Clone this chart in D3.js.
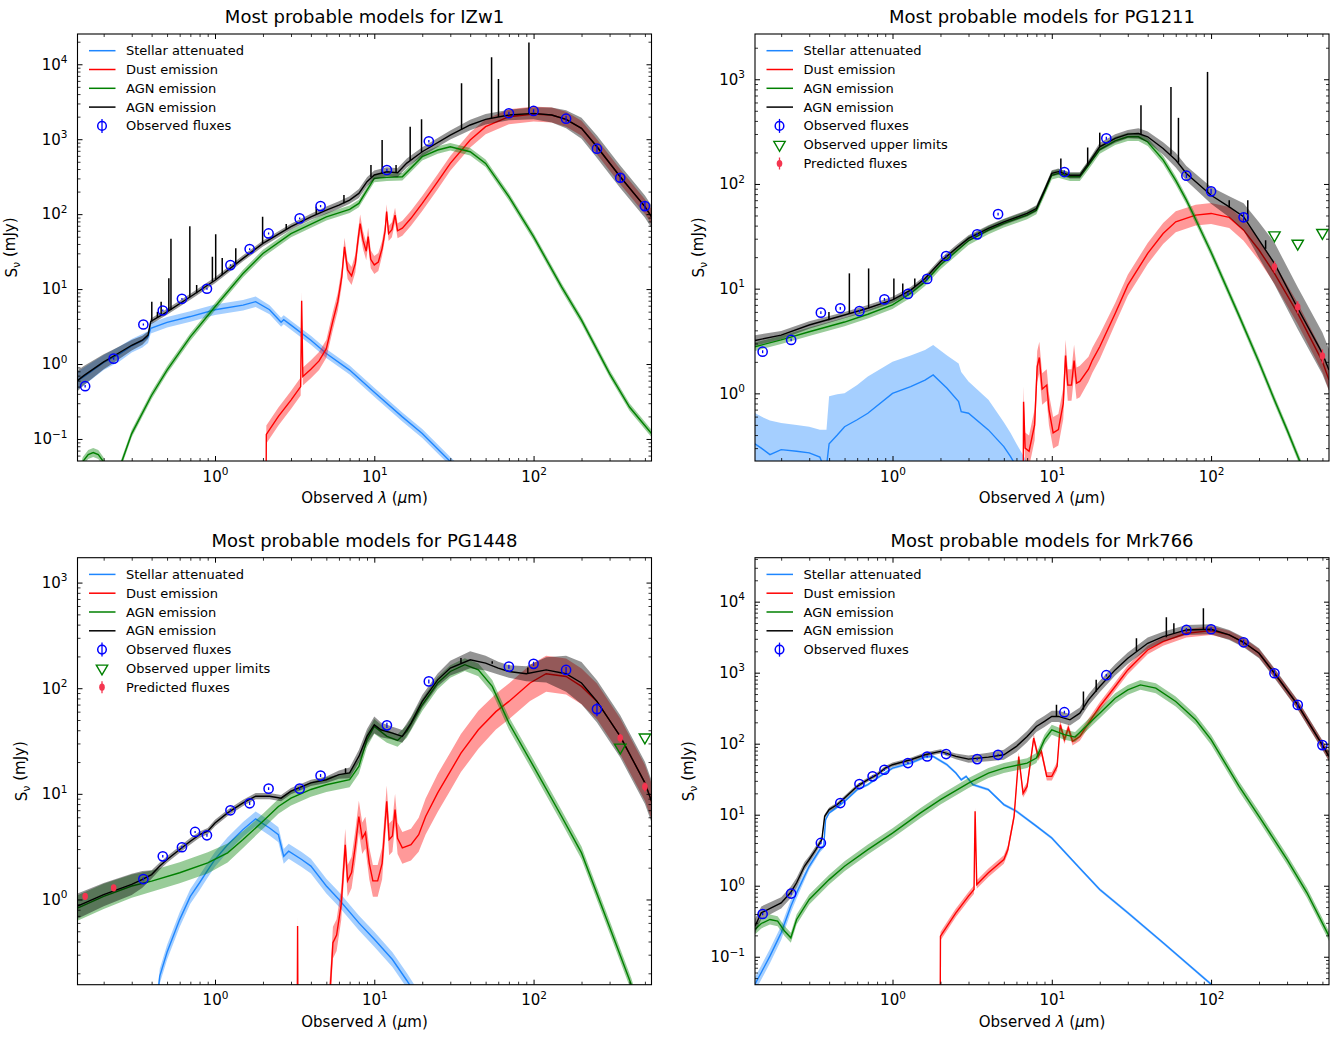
<!DOCTYPE html>
<html>
<head>
<meta charset="utf-8">
<title>Most probable models</title>
<script src="https://cdn.jsdelivr.net/npm/d3@7"></script>
<style>
  body { margin: 0; background: #fff; }
  text { font-family: "DejaVu Sans", sans-serif; fill: #000; }
</style>
</head>
<body>
<svg id="sed" width="1339" height="1038"></svg>
<script>
// Observed wavelength range shared by the four panels (micron)
var LAM_RANGE = [0.137, 550];

// Model components: [lambda, S_nu (mJy), band half-width (dex)]
// or [lambda, S_nu, band low, band high] when the band is lopsided.
var IZW1_STELLAR = [[0.137,0.6,0.12],[0.15,0.68,0.12],[0.2,1.05,0.1],[0.25,1.35,0.1],[0.3,1.75,0.09],
  [0.35,2.05,0.09],[0.38,2.3,0.08],[0.395,3.0,0.07],[0.5,3.6,0.07],[0.7,4.3,0.07],[1,5.3,0.07],
  [1.5,6.1,0.07],[1.8,6.8,0.07],[2.2,5.3,0.06],[2.6,3.6,0.06],[2.7,3.9,0.06],[3,3.3,0.06],[4,2.08,0.06],
  [5,1.38,0.06],[7,0.83,0.06],[10,0.42,0.06],[15,0.197,0.06],[20,0.118,0.06],[30,0.05,0.06],[40,0.028,0.06]];
var IZW1_DUST = [[2.09,0.012,0.12],[2.1,0.115,0.12],[2.5,0.2,0.12],[3,0.33,0.12],[3.45,0.5,0.12],[3.5,7.0,0.12],
  [3.56,0.68,0.12],[4,0.85,0.12],[4.5,1.1,0.12],[5,1.6,0.12],[5.5,3.8,0.12],[5.9,6.8,0.12],[6.25,14.6,0.12],
  [6.5,36.6,0.12],[6.8,18,0.12],[7.2,15,0.12],[7.6,22,0.12],[7.9,45,0.12],[8.15,75,0.12],[8.5,45,0.12],
  [8.9,32,0.12],[9.15,50,0.12],[9.5,25,0.12],[10,21,0.12],[10.6,23,0.12],[11.2,35,0.1],[11.7,60,0.1],
  [11.95,108,0.1],[12.3,55,0.1],[12.9,62,0.1],[13.5,97,0.1],[14,60,0.1],[15,65,0.1],[17,88,0.1],[20,139,0.1],
  [25,271,0.1],[30,476,0.1],[40,977,0.1],[50,1469,0.1],[70,1996,0.1],[100,2173,0.1],[130,2100,0.1],
  [160,1840,0.1],[200,1396,0.1],[250,793,0.1],[350,316,0.1],[500,126,0.1],[550,92,0.1]];
var IZW1_AGN = [[0.137,0.03,0.06],[0.148,0.05,0.06],[0.16,0.062,0.06],[0.172,0.066,0.06],[0.185,0.062,0.06],
  [0.199,0.05,0.06],[0.215,0.035,0.06],[0.24,0.03,0.05],[0.26,0.05,0.05],[0.3,0.118,0.05],[0.4,0.383,0.05],
  [0.5,0.83,0.05],[0.7,2.3,0.05],[1,5.8,0.05],[1.5,16.1,0.05],[2,29.9,0.05],[3,55,0.05],[5,92,0.05],
  [7,116,0.05],[8,139,0.05],[9,209,0.05],[10,300,0.05],[12,310,0.05],[15,316,0.05],[20,585,0.05],
  [25,718,0.05],[30,794,0.05],[40,681,0.05],[50,476,0.05],[70,171,0.05],[100,50,0.05],[150,10.7,0.05],
  [200,3.85,0.05],[300,0.746,0.05],[400,0.267,0.05],[550,0.118,0.05]];
var IZW1_TOTAL = [[0.137,0.6,0.14],[0.15,0.7,0.13],[0.2,1.07,0.1],[0.23,1.27,0.09],[0.3,1.78,0.07],
  [0.35,2.08,0.06],[0.38,2.43,0.05],[0.395,3.7,0.04],[0.5,4.97,0.04],[0.7,7.9,0.04],[1,13.1,0.04],
  [1.5,25.7,0.04],[2,40.7,0.04],[3,68,0.04],[4,92,0.04],[5,113,0.05],[6,132,0.05],[7,154,0.05],[8,189,0.06],
  [9,271,0.06],[10,333,0.06],[12,368,0.06],[14,357,0.06],[16,480,0.06],[20,681,0.06],[30,1137,0.06],
  [40,1549,0.07],[50,1843,0.07],[70,2105,0.07],[100,2214,0.08],[130,2100,0.1],[160,1840,0.12],
  [200,1396,0.14],[250,793,0.15],[350,316,0.15],[500,126,0.15],[550,92,0.15]];
// emission lines on the total model: [lambda, continuum, peak]
var IZW1_LINES = [[0.401,3.7,6.8],[0.435,4.1,5.0],[0.459,4.4,6.8],[0.513,5.1,13.9],[0.529,5.3,47],
  [0.695,7.8,69],[0.767,8.8,11.3],[0.963,12.5,27],[1.01,13.2,54],[1.11,15.3,26],[1.35,21.5,35],
  [1.99,40.5,92],[2.8,63,74],[4.32,100,126],[6.45,140,180],[9.53,310,452],[11.2,345,977],[13.7,360,452],
  [16.8,520,1470],[19.8,670,1840],[35.3,1350,5570],[54.5,1900,12400],[60.2,1980,6370],[93.5,2200,19450]];
// photometry: [lambda, flux, error]
var IZW1_OBS = [[0.153,0.506,0.02],[0.231,1.18,0.04],[0.355,3.37,0.1],[0.47,5.18,0.15],[0.62,7.41,0.2],
  [0.89,10.1,0.3],[1.25,20.9,0.6],[1.65,34.2,1],[2.17,55.3,1.7],[3.4,87.8,2.5],[4.6,128,4],[12,388,15],
  [22,938,35],[70,2220,110],[100,2384,120],[160,1880,180],[250,748,80],[350,306,40],[500,128,18]];

var PG1211_STELLAR = [[0.137,0.33,0.1,0.65],[0.15,0.3,0.1,0.6],[0.17,0.26,0.1,0.55],[0.2,0.29,0.1,0.52],
  [0.25,0.28,0.1,0.5],[0.3,0.27,0.1,0.48],[0.35,0.246,0.1,0.45],[0.37,0.2,0.1,0.45],[0.385,0.2,0.1,0.45],
  [0.4,0.33,0.1,0.94],[0.45,0.4,0.1,0.98],[0.5,0.48,0.1,1.0],[0.6,0.56,0.1,1.2],[0.7,0.646,0.1,1.45],
  [1,1.0,0.1,2.0],[1.3,1.16,0.1,2.3],[1.6,1.34,0.1,2.6],[1.8,1.5,0.1,2.9],[2.2,1.12,0.1,2.3],
  [2.6,0.834,0.1,1.93],[2.7,0.67,0.1,1.6],[3,0.646,0.1,1.3],[4,0.448,0.1,0.87],[5,0.31,0.1,0.53],
  [5.5,0.25,0.1,0.42],[6,0.2,0.1,0.33],[7,0.15,0.1,0.22]];
var PG1211_DUST = [[6.6,0.05,0.15],[6.65,0.83,0.15],[6.8,0.3,0.15],[7.2,0.28,0.15],[7.8,0.5,0.15],
  [8.1,1.8,0.15],[8.35,2.2,0.15],[8.7,1.1,0.15],[9.3,1.2,0.15],[9.6,0.7,0.15],[10.2,0.42,0.15],
  [11,0.45,0.15],[11.8,0.8,0.15],[12.2,2.3,0.15],[12.6,1.2,0.15],[13.3,1.2,0.15],[13.8,2.06,0.15],
  [14.3,1.25,0.15],[15,1.3,0.15],[17,1.7,0.12],[18,2.08,0.12],[20,2.79,0.12],[25,5.8,0.1],[30,10.8,0.1],
  [40,21.7,0.1],[50,33.6,0.1],[60,43.5,0.1],[80,50.4,0.1],[100,52.3,0.1],[130,47.9,0.1],[160,36.2,0.1],
  [200,23.4,0.1],[250,14,0.1],[350,5.8,0.1],[500,2.01,0.1],[550,1.34,0.1]];
var PG1211_AGN = [[0.137,2.79,0.04],[0.2,3.24,0.04],[0.3,3.88,0.04],[0.5,4.8,0.04],[0.7,5.7,0.04],
  [1,7.0,0.04],[1.3,9.0,0.04],[1.6,11.6,0.04],[2,16.8,0.04],[2.5,22.5,0.04],[3,28.7,0.04],[4,36.2,0.04],
  [5,42,0.04],[7,50.4,0.04],[8,56.2,0.04],[9,84,0.04],[10,121,0.04],[11,126,0.04],[13,117,0.04],
  [15,117,0.04],[17,151,0.04],[20,213,0.04],[25,258,0.04],[30,282,0.04],[35,282,0.04],[40,252,0.04],
  [50,170,0.04],[60,108,0.04],[70,70,0.04],[77,52,0.04],[100,22.3,0.04],[150,5.5,0.04],[200,1.98,0.04],
  [250,0.865,0.04],[300,0.448,0.04],[360,0.226,0.04],[400,0.15,0.04]];
var PG1211_TOTAL = [[0.137,3.2,0.05],[0.2,3.6,0.04],[0.3,4.5,0.035],[0.5,5.6,0.03],[0.7,6.5,0.03],
  [1,7.8,0.03],[1.3,9.7,0.03],[1.6,12.5,0.03],[2,18.1,0.03],[2.5,24.2,0.03],[3,30.2,0.03],[4,37.6,0.03],
  [5,43.5,0.03],[7,52.3,0.03],[8,58.3,0.03],[9,87,0.03],[10,126,0.03],[11,131,0.03],[13,121,0.03],
  [15,121,0.03],[17,157,0.03],[20,226,0.04],[25,272,0.04],[30,299,0.04],[35,303,0.05],[40,282,0.05],
  [50,218,0.06],[60,169,0.07],[70,126,0.07],[100,78,0.08],[130,60.5,0.1],[160,48.6,0.13],[200,29.1,0.17],
  [250,17.4,0.2],[350,6.5,0.2],[500,2.41,0.2],[550,1.67,0.2]];
var PG1211_LINES = [[0.399,5.0,6.0],[0.536,5.8,14],[0.708,6.5,15.6],[1.02,7.9,12.5],[1.16,8.8,11.2],
  [1.38,10.4,12.5],[11.4,129,175],[16.8,150,223],[20,226,309],[36.3,300,565],[56,190,845],[62.4,160,428],
  [95,82,1175],[130,60,70],[170,44,70],[220,24,29]];
var PG1211_OBS = [[0.153,2.5,0.08],[0.231,3.24,0.1],[0.355,5.9,0.18],[0.47,6.5,0.2],[0.62,6.1,0.18],
  [0.89,7.9,0.25],[1.25,8.9,0.3],[1.65,12.4,0.4],[2.17,20.5,0.6],[3.4,33,1],[4.6,51.5,1.5],[12,130,5],
  [22,273,9],[70,120,6],[100,85,5],[160,48,5]];
var PG1211_UPPER = [[250,32.4],[350,27],[500,34.2]];
var PG1211_PRED = [[250,16.2,2],[350,6.7,0.9],[500,2.28,0.35]];

var PG1448_STELLAR = [[0.43,0.1,0.07],[0.45,0.188,0.07],[0.5,0.316,0.07],[0.6,0.645,0.07],[0.7,1.07,0.07],
  [0.8,1.44,0.07],[0.9,1.9,0.07],[1,2.4,0.07],[1.2,3.3,0.07],[1.5,4.6,0.07],[1.8,5.8,0.07],[2.2,4.75,0.07],
  [2.5,4.1,0.07],[2.7,2.56,0.07],[2.9,2.86,0.07],[3.5,2.39,0.07],[4,2.07,0.07],[5,1.34,0.07],[6,1.0,0.07],
  [8,0.6,0.07],[10,0.42,0.07],[13,0.27,0.07],[16,0.171,0.07],[18,0.13,0.07]];
var PG1448_DUST = [[3.28,0.05,0.12],[3.3,0.56,0.12],[3.32,0.05,0.12],[5.0,0.05,0.15],[5.3,0.15,0.15],
  [5.5,0.39,0.15],[5.8,0.46,0.15],[6.2,0.9,0.15],[6.57,3.3,0.15],[6.8,1.5,0.15],[7.2,1.8,0.15],
  [7.6,3.2,0.15],[8.0,6.1,0.15],[8.4,3.8,0.15],[8.8,4.3,0.15],[9.3,2.2,0.15],[9.8,1.5,0.15],[10.5,1.5,0.15],
  [11.2,2.2,0.15],[11.97,8.5,0.15],[12.4,3.7,0.15],[13,4.0,0.15],[13.5,7.1,0.15],[14,3.8,0.15],
  [15,3.08,0.15],[17,3.3,0.15],[19,4.1,0.16],[21,6.1,0.17],[25,10.2,0.18],[30,16.3,0.18],[35,24.3,0.18],
  [45,40.4,0.18],[58,60,0.17],[70,75,0.17],[95,112,0.17],[120,137,0.17],[160,129,0.17],[200,104,0.17],
  [250,75,0.17],[350,35,0.17],[500,12.7,0.17],[550,8.5,0.17]];
var PG1448_AGN = [[0.137,0.83,0.12],[0.2,1.07,0.12],[0.3,1.34,0.11],[0.4,1.49,0.1],[0.6,1.79,0.1],
  [0.9,2.22,0.1],[1.2,2.76,0.09],[1.5,3.69,0.08],[2,5.5,0.07],[2.5,7.6,0.07],[3,9.1,0.07],[4,11,0.07],
  [5,12.2,0.07],[7,13.6,0.07],[8,18.2,0.07],[9,32.5,0.07],[10,43.5,0.07],[12,35,0.06],[14,32,0.06],
  [16,39,0.06],[20,69.7,0.06],[25,112,0.06],[30,144,0.06],[37,167,0.06],[45,149,0.06],[55,104,0.06],
  [70,46.8,0.06],[100,18.2,0.06],[150,6.1,0.06],[200,2.76,0.06],[300,0.55,0.06],[411,0.156,0.06],
  [450,0.1,0.06]];
var PG1448_TOTAL = [[0.137,0.865,0.12],[0.2,1.11,0.11],[0.3,1.39,0.1],[0.35,1.55,0.08],[0.4,1.72,0.04],
  [0.45,2.07,0.035],[0.5,2.39,0.03],[0.6,2.97,0.03],[0.7,3.56,0.03],[0.8,4.11,0.03],[0.9,4.43,0.03],
  [1,5.3,0.03],[1.2,6.6,0.03],[1.5,8.2,0.03],[1.8,9.5,0.03],[2.2,9.5,0.03],[2.6,9.1,0.03],[3,10.6,0.03],
  [4,12.7,0.03],[5,13.6,0.03],[6,15.2,0.04],[7,15.8,0.05],[8,22.6,0.06],[9,35,0.07],[10,45,0.08],
  [11,40.4,0.07],[13,37.6,0.06],[15,35,0.06],[17,46.8,0.06],[20,75,0.06],[25,120,0.06],[30,155,0.07],
  [40,186,0.08],[50,173,0.07],[60,155,0.06],[70,144,0.06],[90,137,0.07],[120,149,0.12],[160,137,0.17],
  [200,112,0.2],[250,75,0.2],[350,35,0.2],[500,12.7,0.2],[550,8.5,0.2]];
var PG1448_LINES = [[6.6,15.5,17.5],[35,172,193],[55,170,180],[92,137,157]];
var PG1448_OBS = [[0.355,1.56,0.05],[0.47,2.56,0.07],[0.62,3.12,0.08],[0.75,4.36,0.1],[0.89,4.05,0.12],
  [1.25,6.98,0.2],[1.65,8.14,0.3],[2.17,11.2,0.35],[3.4,11.2,0.35],[4.6,14.9,0.5],[12,44.5,2.5],[22,116,5],
  [70,160,7],[100,170,8],[160,149,10],[250,63.4,9]];
var PG1448_UPPER = [[350,27.5],[500,34.3]];
var PG1448_PRED = [[0.153,1.07,0.08],[0.231,1.29,0.08],[350,33.8,3],[500,11.7,1.2]];

var MRK766_STELLAR = [[0.137,0.041,0.1],[0.15,0.06,0.1],[0.17,0.102,0.1],[0.2,0.217,0.1],[0.23,0.515,0.09],
  [0.25,0.794,0.08],[0.28,1.36,0.06],[0.3,1.88,0.05],[0.35,3.23,0.04],[0.37,3.6,0.03],[0.38,8.5,0.02],
  [0.4,10.6,0.02],[0.45,12.8,0.02],[0.5,15.4,0.02],[0.6,22.5,0.02],[0.7,26.5,0.02],[0.8,32.8,0.02],
  [1,45.4,0.02],[1.3,53.3,0.02],[1.6,64.8,0.02],[1.8,66.2,0.02],[2.2,50.6,0.02],[2.5,38.6,0.02],
  [2.7,31.1,0.02],[2.9,34.7,0.02],[3.2,26.5,0.02],[4,22.5,0.02],[5,13.9,0.02],[6,11.2,0.02],[8,6.9,0.02],
  [10,4.7,0.02],[15,1.76,0.02],[20,0.885,0.02],[30,0.416,0.02],[50,0.157,0.02],[100,0.041,0.02],
  [110,0.03,0.02]];
var MRK766_DUST = [[1.99,0.01,0.06],[2.0,0.195,0.06],[2.5,0.416,0.06],[3,0.713,0.06],[3.25,0.885,0.06],
  [3.3,11.2,0.06],[3.38,1.04,0.06],[4,1.52,0.06],[5,2.34,0.06],[5.3,3.23,0.06],[5.8,9.5,0.06],
  [6.2,66,0.06],[6.6,20,0.06],[7,25,0.06],[7.7,120,0.06],[8.2,66,0.06],[8.6,78,0.06],[9.3,34.7,0.06],
  [10,34.7,0.06],[10.8,48,0.06],[11.3,185,0.06],[12,114,0.06],[12.7,166,0.06],[13.5,108,0.06],
  [15,126,0.06],[17,195,0.06],[20,334,0.06],[25,638,0.06],[30,1095,0.06],[40,2090,0.06],[50,2740,0.06],
  [70,3590,0.06],[100,3910,0.06],[130,3400,0.06],[160,2680,0.06],[200,1878,0.06],[250,982,0.06],
  [350,352,0.06],[500,95.5,0.06],[550,66.2,0.06]];
var MRK766_AGN = [[0.137,0.242,0.07],[0.15,0.294,0.07],[0.17,0.335,0.07],[0.19,0.317,0.07],[0.21,0.23,0.07],
  [0.23,0.185,0.07],[0.25,0.335,0.07],[0.3,0.64,0.07],[0.4,1.22,0.07],[0.5,1.88,0.07],[0.7,3.23,0.07],
  [1,5.5,0.07],[1.5,10.6,0.07],[2,16.3,0.07],[3,27.9,0.07],[4,38.6,0.07],[5,45.4,0.07],[7,53.3,0.07],
  [8,62.8,0.07],[9,114,0.07],[10,157,0.07],[12,134,0.07],[14,124,0.07],[16,166,0.07],[20,269,0.07],
  [25,437,0.07],[30,573,0.07],[36,673,0.07],[45,605,0.07],[60,393,0.07],[80,217,0.07],[100,114,0.07],
  [150,25,0.07],[200,9.5,0.07],[300,2.33,0.07],[400,0.795,0.07],[550,0.195,0.07]];
var MRK766_TOTAL = [[0.137,0.27,0.1],[0.15,0.416,0.09],[0.2,0.574,0.08],[0.23,0.81,0.08],[0.25,1.1,0.07],
  [0.28,1.88,0.06],[0.3,2.34,0.05],[0.33,3.23,0.05],[0.36,4.46,0.04],[0.375,9.5,0.03],[0.4,11.8,0.03],
  [0.45,13.9,0.03],[0.5,17.2,0.03],[0.6,25.1,0.03],[0.7,31.1,0.03],[0.8,36.6,0.03],[0.9,45.4,0.03],
  [1,50.6,0.03],[1.3,59.4,0.03],[1.6,69.9,0.03],[2,77.8,0.03],[2.5,66.2,0.04],[3,60.7,0.05],[4,64.8,0.06],
  [5,69.9,0.07],[6,91.6,0.08],[7,126,0.08],[8,175,0.08],[9,206,0.08],[10,242,0.08],[11,242,0.08],
  [13,217,0.08],[15,269,0.08],[17,415,0.08],[20,638,0.08],[25,1095,0.08],[30,1596,0.08],[40,2593,0.08],
  [50,3220,0.07],[70,4000,0.07],[100,4090,0.07],[130,3400,0.07],[160,2680,0.07],[200,1878,0.07],
  [250,982,0.07],[350,352,0.07],[500,95.5,0.07],[550,66.2,0.07]];
var MRK766_LINES = [[10.7,240,353],[15.8,300,543],[19,540,794],[34,2000,3050],[52.4,3150,6030],
  [58.4,3500,4950],[89.5,4080,8060]];
var MRK766_OBS = [[0.153,0.40,0.015],[0.231,0.776,0.03],[0.355,4.0,0.15],[0.47,14.6,0.5],[0.62,27,0.9],
  [0.75,34.7,1.1],[0.89,43,1.4],[1.25,53.4,1.7],[1.65,66,2.2],[2.17,71.4,2.3],[3.4,60.7,2],[4.6,69.8,2.3],
  [12,278,12],[22,921,35],[70,4000,250],[100,4090,260],[160,2680,230],[250,982,100],[350,352,40],[500,95.5,12]];

var TITLES = ["IZw1", "PG1211", "PG1448", "Mrk766"];
var Y_RANGES = [[0.0508, 25350], [0.226, 2705], [0.156, 1720], [0.0404, 41600]];

(function () {
  var svg = d3.select("#sed");
  var LEFT = [77.5, 755], TOP = [34, 557.7], PW = 574, PH = 427;
  var COMPS = [
    { key: "stellar", color: "#1e86ff", label: "Stellar attenuated" },
    { key: "dust", color: "#ff0000", label: "Dust emission" },
    { key: "agn", color: "#008000", label: "AGN emission" },
    { key: "total", color: "#000000", label: "AGN emission" }
  ];
  var OBS_C = "#0000ff", UPPER_C = "#008000", PRED_C = "#f4354f";

  var panels = [
    { stellar: IZW1_STELLAR, dust: IZW1_DUST, agn: IZW1_AGN, total: IZW1_TOTAL, lines: IZW1_LINES,
      obs: IZW1_OBS, upper: [], pred: [] },
    { stellar: PG1211_STELLAR, dust: PG1211_DUST, agn: PG1211_AGN, total: PG1211_TOTAL, lines: PG1211_LINES,
      obs: PG1211_OBS, upper: PG1211_UPPER, pred: PG1211_PRED },
    { stellar: PG1448_STELLAR, dust: PG1448_DUST, agn: PG1448_AGN, total: PG1448_TOTAL, lines: PG1448_LINES,
      obs: PG1448_OBS, upper: PG1448_UPPER, pred: PG1448_PRED },
    { stellar: MRK766_STELLAR, dust: MRK766_DUST, agn: MRK766_AGN, total: MRK766_TOTAL, lines: MRK766_LINES,
      obs: MRK766_OBS, upper: [], pred: [] }
  ];

  function decades(dom) {
    var major = [], minor = [];
    var lo = Math.floor(Math.log10(dom[0])), hi = Math.ceil(Math.log10(dom[1]));
    for (var e = lo; e <= hi; e++) {
      var p = Math.pow(10, e);
      if (p >= dom[0] && p <= dom[1]) major.push(p);
      for (var k = 2; k < 10; k++) {
        var v = k * p;
        if (v >= dom[0] && v <= dom[1]) minor.push(v);
      }
    }
    return { major: major, minor: minor };
  }

  function powLabels(sel) {
    sel.selectAll(".tick text").each(function (d) {
      var t = d3.select(this), e = Math.round(Math.log10(d));
      t.text(null).attr("font-size", "15px").attr("font-family", "DejaVu Sans, sans-serif");
      t.append("tspan").text("10");
      t.append("tspan").attr("dy", "-0.62em").attr("font-size", "10.5px")
        .text(e < 0 ? "\u2212" + (-e) : String(e));
    });
  }

  function ticks(g, axis, vals, size, labelled) {
    g.call(axis.tickValues(vals).tickSize(-size).tickPadding(labelled ? 10 : 4)
      .tickFormat(labelled ? function (d) { return d; } : function () { return ""; }));
    g.select(".domain").remove();
    g.selectAll(".tick line").attr("stroke", "#000").attr("stroke-width", size > 4 ? 1 : 0.8);
    if (labelled) powLabels(g);
  }

  panels.forEach(function (p, i) {
    var x0 = LEFT[i % 2], y0 = TOP[Math.floor(i / 2)];
    var g = svg.append("g").attr("transform", "translate(" + x0 + "," + y0 + ")");
    var x = d3.scaleLog().domain(LAM_RANGE).range([0, PW]);
    var y = d3.scaleLog().domain(Y_RANGES[i]).range([PH, 0]);
    var cid = "clip" + i;
    g.append("clipPath").attr("id", cid).append("rect").attr("width", PW).attr("height", PH);
    var plot = g.append("g").attr("clip-path", "url(#" + cid + ")");

    function lo(d) { return d.length > 3 ? d[2] : d[1] / Math.pow(10, d[2]); }
    function hi(d) { return d.length > 3 ? d[3] : d[1] * Math.pow(10, d[2]); }
    var area = d3.area().x(function (d) { return x(d[0]); })
      .y0(function (d) { return y(lo(d)); }).y1(function (d) { return y(hi(d)); });
    var line = d3.line().x(function (d) { return x(d[0]); }).y(function (d) { return y(d[1]); });

    COMPS.forEach(function (c) {
      var data = p[c.key];
      plot.append("path").datum(data).attr("d", area)
        .attr("fill", c.color).attr("fill-opacity", c.key === "total" ? 0.42 : 0.4);
      plot.append("path").datum(data).attr("d", line)
        .attr("fill", "none").attr("stroke", c.color).attr("stroke-width", 1.4);
    });

    plot.append("g").selectAll("line").data(p.lines).join("line")
      .attr("x1", function (d) { return x(d[0]); }).attr("x2", function (d) { return x(d[0]); })
      .attr("y1", function (d) { return y(d[1]); }).attr("y2", function (d) { return y(d[2]); })
      .attr("stroke", "#000").attr("stroke-width", 1.5);

    // observed fluxes
    var og = plot.append("g");
    og.selectAll("line").data(p.obs).join("line")
      .attr("x1", function (d) { return x(d[0]); }).attr("x2", function (d) { return x(d[0]); })
      .attr("y1", function (d) { return y(d[1] - d[2]); }).attr("y2", function (d) { return y(d[1] + d[2]); })
      .attr("stroke", OBS_C).attr("stroke-width", 1.3);
    og.selectAll("circle").data(p.obs).join("circle")
      .attr("cx", function (d) { return x(d[0]); }).attr("cy", function (d) { return y(d[1]); })
      .attr("r", 4.6).attr("fill", "none").attr("stroke", OBS_C).attr("stroke-width", 1.5);

    // upper limits
    var tri = d3.symbol().type(d3.symbolTriangle).size(56);
    plot.append("g").selectAll("path").data(p.upper).join("path")
      .attr("d", tri)
      .attr("transform", function (d) { return "translate(" + x(d[0]) + "," + y(d[1]) + ") rotate(180)"; })
      .attr("fill", "none").attr("stroke", UPPER_C).attr("stroke-width", 1.4);

    // predicted fluxes
    var pg = plot.append("g");
    pg.selectAll("line").data(p.pred).join("line")
      .attr("x1", function (d) { return x(d[0]); }).attr("x2", function (d) { return x(d[0]); })
      .attr("y1", function (d) { return y(d[1] - d[2]); }).attr("y2", function (d) { return y(d[1] + d[2]); })
      .attr("stroke", PRED_C).attr("stroke-width", 1.3);
    pg.selectAll("ellipse").data(p.pred).join("ellipse")
      .attr("cx", function (d) { return x(d[0]); }).attr("cy", function (d) { return y(d[1]); })
      .attr("rx", 2.8).attr("ry", 3.6).attr("fill", PRED_C);

    // axes: inward ticks on all four sides
    var xt = decades(LAM_RANGE), yt = decades(Y_RANGES[i]);
    ticks(g.append("g").attr("transform", "translate(0," + PH + ")"), d3.axisBottom(x), xt.major, 5, true);
    ticks(g.append("g").attr("transform", "translate(0," + PH + ")"), d3.axisBottom(x), xt.minor, 3, false);
    ticks(g.append("g"), d3.axisTop(x), xt.major, 5, false);
    ticks(g.append("g"), d3.axisTop(x), xt.minor, 3, false);
    ticks(g.append("g"), d3.axisLeft(y), yt.major, 5, true);
    ticks(g.append("g"), d3.axisLeft(y), yt.minor, 3, false);
    ticks(g.append("g").attr("transform", "translate(" + PW + ",0)"), d3.axisRight(y), yt.major, 5, false);
    ticks(g.append("g").attr("transform", "translate(" + PW + ",0)"), d3.axisRight(y), yt.minor, 3, false);
    g.selectAll(".tick text").filter(function () { return this.textContent === ""; }).remove();

    g.append("rect").attr("width", PW).attr("height", PH)
      .attr("fill", "none").attr("stroke", "#000").attr("stroke-width", 1.1);

    g.append("text").attr("x", PW / 2).attr("y", -11).attr("text-anchor", "middle")
      .attr("font-size", "18px").text("Most probable models for " + TITLES[i]);

    var xl = g.append("text").attr("x", PW / 2).attr("y", PH + 42).attr("text-anchor", "middle")
      .attr("font-size", "15px");
    xl.append("tspan").text("Observed ");
    xl.append("tspan").attr("font-style", "italic").text("\u03bb");
    xl.append("tspan").text(" (");
    xl.append("tspan").attr("font-style", "italic").text("\u03bc");
    xl.append("tspan").text("m)");

    var yOff = yt.major[0] < 1 ? 61 : 51;
    var yl = g.append("text").attr("transform", "translate(" + (-yOff) + "," + (PH / 2) + ") rotate(-90)")
      .attr("text-anchor", "middle").attr("font-size", "15px");
    yl.append("tspan").text("S");
    yl.append("tspan").attr("dy", "0.3em").attr("font-size", "11px").text("\u03bd");
    yl.append("tspan").attr("dy", "-0.3em").text(" (mJy)");

    // legend
    var items = COMPS.map(function (c) { return { kind: "line", color: c.color, label: c.label }; });
    items.push({ kind: "obs", label: "Observed fluxes" });
    if (p.upper.length) items.push({ kind: "upper", label: "Observed upper limits" });
    if (p.pred.length) items.push({ kind: "pred", label: "Predicted fluxes" });
    var lg = g.append("g").attr("transform", "translate(11.5,16.7)");
    items.forEach(function (it, k) {
      var row = lg.append("g").attr("transform", "translate(0," + (k * 18.8) + ")");
      if (it.kind === "line") {
        row.append("line").attr("x1", 0).attr("x2", 26.5).attr("stroke", it.color).attr("stroke-width", 1.5);
      } else if (it.kind === "obs") {
        row.append("line").attr("x1", 13).attr("x2", 13).attr("y1", -7).attr("y2", 7)
          .attr("stroke", OBS_C).attr("stroke-width", 1.3);
        row.append("circle").attr("cx", 13).attr("r", 4.3).attr("fill", "none")
          .attr("stroke", OBS_C).attr("stroke-width", 1.5);
      } else if (it.kind === "upper") {
        row.append("path").attr("d", tri).attr("transform", "translate(13,0) rotate(180)")
          .attr("fill", "none").attr("stroke", UPPER_C).attr("stroke-width", 1.4);
      } else {
        row.append("line").attr("x1", 13).attr("x2", 13).attr("y1", -6).attr("y2", 6)
          .attr("stroke", PRED_C).attr("stroke-width", 1.3);
        row.append("ellipse").attr("cx", 13).attr("rx", 2.8).attr("ry", 3.6).attr("fill", PRED_C);
      }
      row.append("text").attr("x", 37).attr("dy", "0.35em").attr("font-size", "13px").text(it.label);
    });
  });
})();
</script>
</body>
</html>
